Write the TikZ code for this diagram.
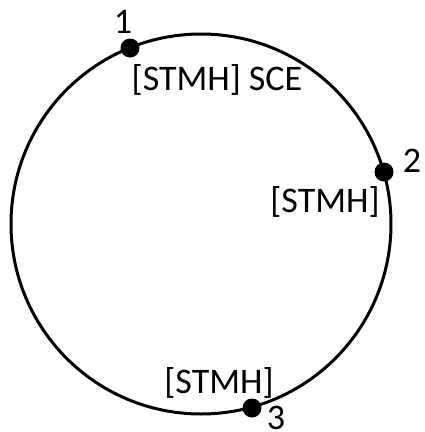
\documentclass[tikz,border=0pt]{standalone}
\usepackage{fontspec}
\setmainfont{Carlito}
\usetikzlibrary{positioning}

\tikzset{
    dot/.style = {circle, fill = black, inner sep = 0pt, minimum size = 19pt},
    lbl/.style = {inner sep = 0pt, font = \fontsize{36}{38}\selectfont}
}

\begin{document}
\begin{tikzpicture}[x = 1pt, y = -1pt]
    \useasboundingbox (0,0) rectangle (424,432);
    \begin{scope}
        \draw[line width = 3pt] (201,224) circle (190);

        \node[dot] (p1) at (130,48) {};
        \node[dot] (p2) at (384,172) {};
        \node[dot] (p3) at (252,408) {};

        \node[lbl, anchor = base] (n1) at (123,33) {1};
        \node[lbl, anchor = base] (n2) at (412,172) {2};
        \node[lbl, anchor = base] (n3) at (276,429) {3};

        \node[lbl, anchor = base] (t1) at (217,90) {[STMH] SCE};
        \node[lbl, anchor = base] (t2) at (325,212) {[STMH]};
        \node[lbl, anchor = base] (t3) at (219,393) {[STMH]};
    \end{scope}
\end{tikzpicture}
\end{document}
